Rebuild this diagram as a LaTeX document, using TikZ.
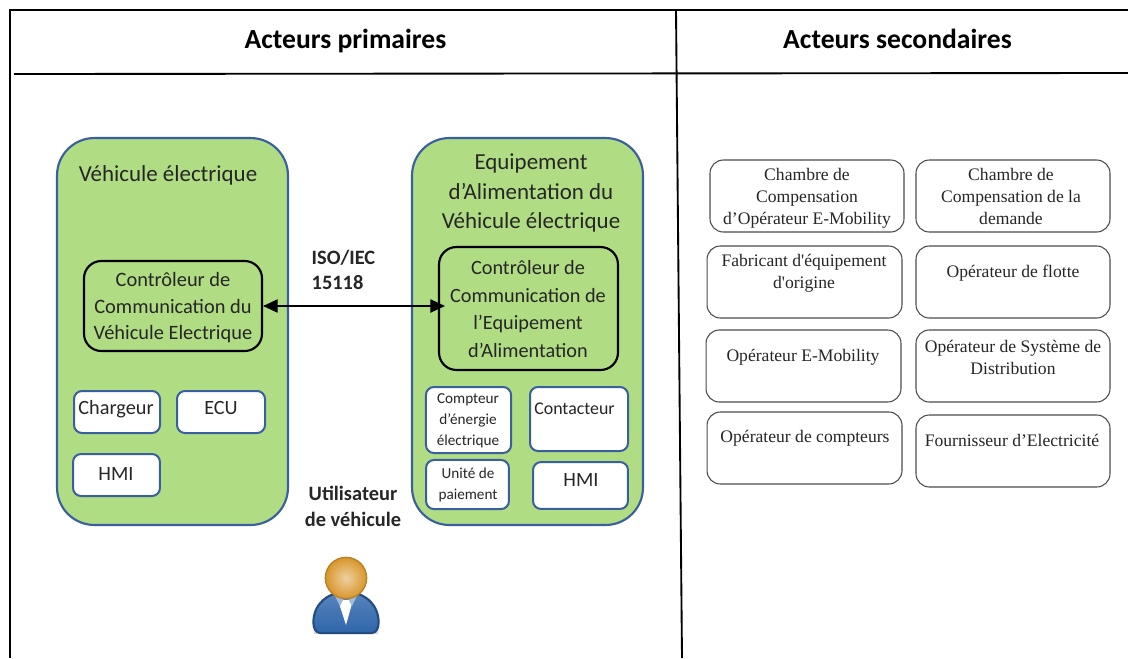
\documentclass[tikz,border=0pt]{standalone}
\usepackage{fontspec}
\setmainfont{Carlito}
\newfontfamily\boxfont{Liberation Serif}
\usetikzlibrary{arrows.meta,shapes,positioning,calc}
\definecolor{panelgreen}{HTML}{B0DC84}
\definecolor{panelblue}{HTML}{3A5F9E}
\definecolor{inkgray}{HTML}{262626}
\definecolor{userorange}{HTML}{D8962C}
\definecolor{userblue}{HTML}{2F66AB}
\tikzset{
	head/.style={font=\fontsize{20.7}{24}\selectfont\bfseries, text=black},
	panel/.style={draw=panelblue, line width=1.6pt, fill=panelgreen, rounded corners=28pt},
	ctrl/.style={draw=black, line width=1.6pt, rounded corners=13pt},
	unit/.style={draw=panelblue, line width=1.5pt, fill=white, rounded corners=6pt},
	actor/.style={draw=black!70, line width=0.8pt, fill=white, rounded corners=10pt},
	title/.style={font=\fontsize{17.2}{22.1}\selectfont, align=center, text=inkgray},
	small/.style={font=\fontsize{11.4}{15.6}\selectfont, align=center, text=inkgray},
	medium/.style={font=\fontsize{15.2}{18}\selectfont, align=center, text=inkgray},
	bold/.style={font=\fontsize{15.3}{19.2}\selectfont\bfseries, align=center, text=inkgray},
	serif/.style={font=\fontsize{13.2}{16.5}\selectfont\boxfont, align=center, text=inkgray},
	link/.style={{Triangle[length=11pt,width=10pt]}-{Triangle[length=11pt,width=10pt]}, line width=0.9pt},
}
\begin{document}
\begin{tikzpicture}[x=0.75pt,y=-0.75pt]
	\useasboundingbox (0,0) rectangle (1128,658);
	% Table lines
	\draw[line width=1.4pt] (10,658) -- (10,10) -- (1128,10);
	\draw[line width=1.4pt] (14,74) -- (1128,73);
	\draw[line width=1.4pt] (676,10) -- (682,658);
	\node[head] (primaires) at (345.5,41) {Acteurs primaires};
	\node[head] (secondaires) at (897.5,39) {Acteurs secondaires};

	% Vehicle panel
	\node[panel, minimum width=173.2pt, minimum height=290.2pt] (vehicule) at (172.5,331.5) {};
	\node[title] (vehiculetxt) at (168,175) {Véhicule électrique};
	\node[ctrl, minimum width=133.5pt, minimum height=67.5pt] (ctrlv) at (173,306) {};
	\node[medium, font=\fontsize{15.3}{19.9}\selectfont] (ctrlvtxt) at (173,308) {Contrôleur de\\Communication du\\Véhicule Electrique};
	\node[unit, minimum width=64.5pt, minimum height=31.5pt] (chargeur) at (117,412) {};
	\node[medium] (chargeurtxt) at (116,409) {Chargeur};
	\node[unit, minimum width=66pt, minimum height=31.5pt] (ecuv) at (221,412) {};
	\node[medium] (ecuvtxt) at (221,408) {ECU};
	\node[unit, minimum width=65.2pt, minimum height=31.5pt] (hmiv) at (116.5,475) {};
	\node[medium] (hmivtxt) at (116,474) {HMI};

	% Supply equipment panel
	\node[panel, minimum width=173.2pt, minimum height=290.2pt] (equipement) at (527.5,331.5) {};
	\node[title] (equipementtxt) at (531,193) {Equipement\\d’Alimentation du\\Véhicule électrique};
	\node[ctrl, minimum width=134.2pt, minimum height=92.2pt] (ctrle) at (528.5,308.5) {};
	\node[medium, font=\fontsize{15.2}{20.6}\selectfont] (ctrletxt) at (528,309) {Contrôleur de\\Communication de\\l’Equipement\\d’Alimentation};
	\node[unit, minimum width=63.8pt, minimum height=49.5pt] (compteur) at (468.5,420) {};
	\node[small] (compteurtxt) at (468,421) {Compteur\\d’énergie\\électrique};
	\node[unit, minimum width=73.5pt, minimum height=48pt] (contacteur) at (579,419) {};
	\node[medium, font=\fontsize{13.4}{16}\selectfont] (contacteurtxt) at (574.5,409) {Contacteur};
	\node[unit, minimum width=62.2pt, minimum height=36.8pt] (paiement) at (467.5,484.5) {};
	\node[small, font=\fontsize{11.4}{16.2}\selectfont] (paiementtxt) at (468,485) {Unité de\\paiement};
	\node[unit, minimum width=71.2pt, minimum height=35.2pt] (hmie) at (580.5,485.5) {};
	\node[medium] (hmietxt) at (581,480) {HMI};

	% Link between controllers
	\coordinate (linkend) at (445,306);
	\draw[link] (ctrlv.east) -- (linkend);
	\node[bold, anchor=west, align=left] (isotxt) at (307,270) {ISO/IEC\\15118};

	% Vehicle user
	\fill[black!15] (314,634) .. controls (311,610) and (322,595) .. (346,592) .. controls (370,595) and (381,610) .. (378,634) -- cycle;
	\draw[draw=userblue!75!black, line width=1.6pt, top color=userblue!80!white, bottom color=userblue] (320,633) .. controls (311,632) and (312,615) .. (318,606) .. controls (324,597) and (334,592) .. (346,592) .. controls (358,592) and (368,597) .. (374,606) .. controls (380,615) and (381,632) .. (372,633) -- cycle;
	\fill[white] (338,600) -- (346,625) -- (353,600) -- cycle;
	\fill[userblue!45!white] (335,596) -- (340,606) -- (344,598) -- cycle;
	\fill[userblue!45!white] (357,596) -- (352,606) -- (348,598) -- cycle;
	\node[circle, minimum size=31pt, inner sep=0pt, draw=userorange!85!black, line width=1pt, inner color=userorange!45!white, outer color=userorange] (userhead) at (346,578) {};
	\node[bold] (usertxt) at (353,506.5) {Utilisateur\\de véhicule};

	% Secondary actors
	\node[actor, minimum width=145.5pt, minimum height=54pt] (chambreop) at (807,196) {};
	\node[serif] (chambreoptxt) at (807,198) {Chambre de\\Compensation\\d’Opérateur E-Mobility};
	\node[actor, minimum width=145.5pt, minimum height=54pt] (chambredem) at (1013,196) {};
	\node[serif] (chambredemtxt) at (1011,196) {Chambre de\\Compensation de la\\demande};
	\node[actor, minimum width=146.2pt, minimum height=54pt] (fabricant) at (804.5,282) {};
	\node[serif] (fabricanttxt) at (804,273) {Fabricant d'équipement\\d'origine};
	\node[actor, minimum width=145.5pt, minimum height=54pt] (flotte) at (1013,282) {};
	\node[serif] (flottetxt) at (1013,273) {Opérateur de flotte};
	\node[actor, minimum width=146.2pt, minimum height=54pt] (emobility) at (803.5,366) {};
	\node[serif] (emobilitytxt) at (803,357) {Opérateur E-Mobility};
	\node[actor, minimum width=145.5pt, minimum height=54pt] (distribution) at (1013,366) {};
	\node[serif] (distributiontxt) at (1013,357) {Opérateur de Système de\\Distribution};
	\node[actor, minimum width=146.2pt, minimum height=54pt] (compteurs) at (804.5,448) {};
	\node[serif] (compteurstxt) at (805,438) {Opérateur de compteurs};
	\node[actor, minimum width=145.5pt, minimum height=54pt] (fournisseur) at (1013,451) {};
	\node[serif] (fournisseurtxt) at (1012,440) {Fournisseur d’Electricité};
\end{tikzpicture}
\end{document}
